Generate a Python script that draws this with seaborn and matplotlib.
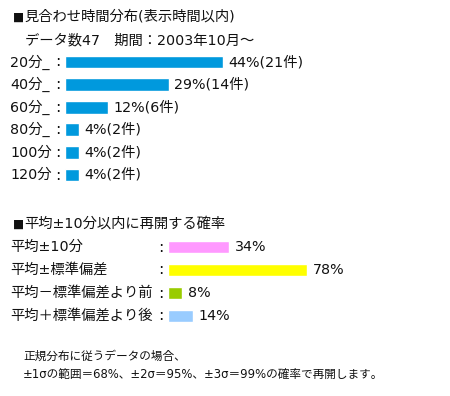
"""Interruption time distribution, drawn as two horizontal bar panels."""

import matplotlib

matplotlib.use("Agg")
import matplotlib.pyplot as plt
import pandas as pd
import seaborn as sns
from matplotlib.transforms import blended_transform_factory

# top panel: waiting-time distribution
wait_labels = ["20分_", "40分_", "60分_", "80分_", "100分", "120分"]
wait_pct = [44, 29, 12, 4, 4, 4]
wait_count = [21, 14, 6, 2, 2, 2]

# bottom panel: probability of resuming within mean +/- range
prob_labels = ["平均±10分", "平均±標準偏差", "平均－標準偏差より前", "平均＋標準偏差より後"]
prob_pct = [34, 78, 8, 14]
prob_colors = ["#FF99FF", "#FFFF00", "#99CC00", "#99CCFF"]

W, H = 450, 396
FS = 10.3

sns.set_theme(style="white")
plt.rcParams["font.family"] = ["DejaVu Sans", "Noto Sans CJK JP"]

fig = plt.figure(figsize=(W / 100, H / 100), dpi=100)
fig.patch.set_facecolor("white")


def px_axes(left, top, width, height):
    """Add axes positioned in pixel units measured from the top-left corner."""
    return fig.add_axes([left / W, 1 - (top + height) / H, width / W, height / H])


def draw_panel(ax, labels, values, colors, texts, bar_w, colon_x, gap):
    df = pd.DataFrame({"label": labels, "value": values})
    sns.barplot(
        data=df, x="value", y="label", hue="label", palette=colors,
        orient="h", width=bar_w, legend=False, saturation=1, ax=ax,
    )
    ax.set_xlim(0, 100)
    ax.set_ylim(len(labels) - 0.5, -0.5)
    ax.axis("off")
    trans = blended_transform_factory(fig.transFigure, ax.transData)
    for i, (lab, v, t) in enumerate(zip(labels, values, texts)):
        ax.text(10 / W, i, lab, transform=trans, ha="left", va="center",
                fontsize=FS, color="#111111")
        ax.text(colon_x / W, i, ":", transform=trans, ha="center", va="center",
                fontsize=FS + 1, color="#111111")
        ax.annotate(t, xy=(v, i), xytext=(gap, 0), textcoords="offset pixels",
                    ha="left", va="center", fontsize=FS, color="#111111")


ax_top = px_axes(65, 50.7, 360, 135.6)
draw_panel(
    ax_top, wait_labels, wait_pct, ["#0099DD"] * len(wait_labels),
    [f"{p}%({c}件)" for p, c in zip(wait_pct, wait_count)],
    bar_w=0.57, colon_x=58, gap=5,
)

ax_bot = px_axes(168, 235.5, 178, 92)
draw_panel(
    ax_bot, prob_labels, prob_pct, prob_colors,
    [f"{p}%" for p in prob_pct],
    bar_w=0.52, colon_x=161, gap=6,
)

# section headings: small square marker, then the heading text
for y, heading in [(17, "見合わせ時間分布(表示時間以内)"), (224, "平均±10分以内に再開する確率")]:
    fig.text(13 / W, 1 - y / H, "■", ha="left", va="center",
             fontsize=8.5, color="#111111")
    fig.text(24 / W, 1 - y / H, heading, ha="left", va="center",
             fontsize=FS, color="#111111")

fig.text(25 / W, 1 - 40 / H, "データ数47　期間：2003年10月～",
         ha="left", va="center", fontsize=FS, color="#111111")
fig.text(23 / W, 1 - 356 / H, "正規分布に従うデータの場合、",
         ha="left", va="center", fontsize=8.4, color="#111111")
fig.text(23 / W, 1 - 374 / H, "±1σの範囲＝68%、±2σ＝95%、±3σ＝99%の確率で再開します。",
         ha="left", va="center", fontsize=8.4, color="#111111")

fig.savefig("out.png", dpi=100, facecolor="white")
